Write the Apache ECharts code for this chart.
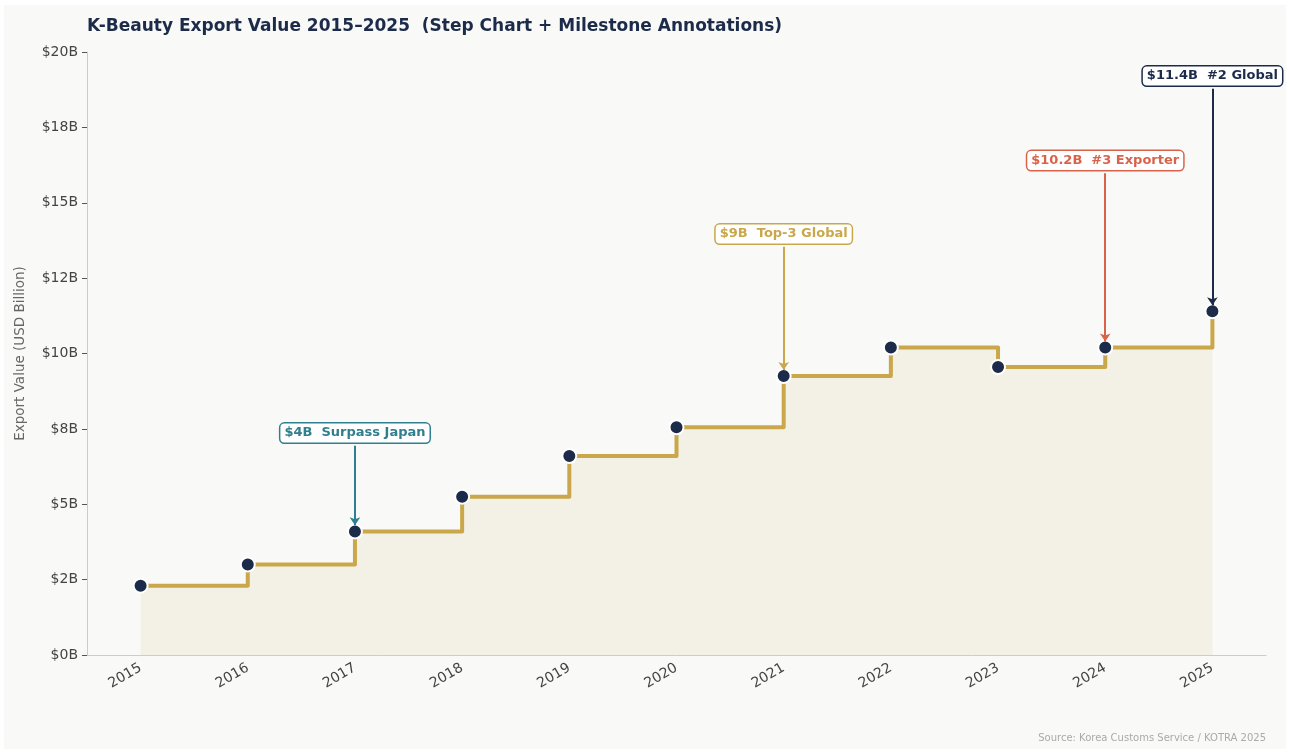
<!DOCTYPE html>
<html>
<head>
<meta charset="utf-8">
<title>K-Beauty Export Value 2015–2025</title>
<script src="https://cdn.jsdelivr.net/npm/echarts@6/dist/echarts.min.js"></script>
<style>
  html, body { margin: 0; padding: 0; background: #ffffff; }
  #chart { width: 1290px; height: 753px; }
</style>
</head>
<body>
<div id="chart"></div>
<script>
// Export value per year, USD billion
const years = ['2015', '2016', '2017', '2018', '2019', '2020', '2021', '2022', '2023', '2024', '2025'];
const exportValues = [2.3, 3.0, 4.1, 5.25, 6.6, 7.55, 9.25, 10.2, 9.55, 10.2, 11.4];

// Y axis tick labels (every 2.5B)
const yTickLabels = ['$0B', '$2B', '$5B', '$8B', '$10B', '$12B', '$15B', '$18B', '$20B'];

// Milestone annotations
const milestoneYears = ['2017', '2021', '2024', '2025'];
const milestoneTexts = ['$4B  Surpass Japan', '$9B  Top-3 Global', '$10.2B  #3 Exporter', '$11.4B  #2 Global'];
const milestoneBoxLevels = [7.36, 13.96, 16.4, 19.2];
const milestoneColors = ['#2f7f8e', '#c9a74a', '#d9634a', '#1c2b4a'];

const GOLD = '#c9a74a';
const NAVY = '#1c2b4a';

const chart = echarts.init(document.getElementById('chart'), null, { renderer: 'canvas' });

const boxData = milestoneYears.map((y, i) => ({
  value: [y, milestoneBoxLevels[i]],
  label: {
    formatter: milestoneTexts[i],
    color: milestoneColors[i],
    borderColor: milestoneColors[i]
  }
}));

const arrowData = milestoneYears.map((y, i) => {
  const idx = years.indexOf(y);
  return [
    { coord: [y, milestoneBoxLevels[i] - 0.42], lineStyle: { color: milestoneColors[i], width: 2, type: 'solid' } },
    { coord: [y, exportValues[idx] + 0.2] }
  ];
});

chart.setOption({
  backgroundColor: '#ffffff',
  animation: false,
  textStyle: { fontFamily: 'DejaVu Sans' },
  title: {
    text: 'K-Beauty Export Value 2015–2025  (Step Chart + Milestone Annotations)',
    left: 82,
    top: 13,
    textStyle: { fontSize: 17, fontWeight: 'bold', color: NAVY, fontFamily: 'DejaVu Sans' }
  },
  graphic: [
    {
      type: 'rect', z: -100, silent: true,
      shape: { x: 4, y: 5, width: 1282, height: 744 },
      style: { fill: '#f9f9f7' }
    },
    {
      type: 'text', right: 24, top: 733,
      style: {
        text: 'Source: Korea Customs Service / KOTRA 2025',
        fill: '#aaaaaa', font: '10px "DejaVu Sans"'
      }
    }
  ],
  grid: { left: 87, right: 24, top: 52, bottom: 98, containLabel: false },
  xAxis: {
    type: 'category',
    data: years,
    boundaryGap: true,
    axisLine: { lineStyle: { color: '#cccccc', width: 1 } },
    axisTick: { alignWithLabel: true, length: 5, lineStyle: { color: '#555555' } },
    axisLabel: { rotate: 30, fontSize: 14, color: '#444444', margin: 12 },
    splitLine: { show: false }
  },
  yAxis: {
    type: 'value',
    min: 0, max: 20, interval: 2.5,
    name: 'Export Value (USD Billion)',
    nameLocation: 'middle',
    nameGap: 60,
    nameTextStyle: { fontSize: 13.5, color: '#666666' },
    axisLine: { show: true, lineStyle: { color: '#cccccc', width: 1 } },
    axisTick: { show: true, length: 5, lineStyle: { color: '#555555' } },
    axisLabel: {
      fontSize: 14, color: '#444444', margin: 9,
      formatter: v => yTickLabels[Math.round(v / 2.5)]
    },
    splitLine: { show: false }
  },
  series: [
    {
      name: 'Export Value',
      type: 'line',
      step: 'end',
      data: exportValues,
      lineStyle: { color: GOLD, width: 4, join: 'round' },
      areaStyle: { color: GOLD, opacity: 0.1 },
      symbol: 'circle',
      symbolSize: 14,
      itemStyle: { color: NAVY, borderColor: '#ffffff', borderWidth: 2 },
      z: 3,
      markLine: {
        silent: true,
        symbol: ['none', 'arrow'],
        symbolSize: [8, 8],
        label: { show: false },
        lineStyle: { type: 'solid', width: 2 },
        data: arrowData
      }
    },
    {
      name: 'Milestones',
      type: 'scatter',
      data: boxData,
      symbolSize: 0,
      z: 5,
      itemStyle: { opacity: 1 },
      label: {
        show: true,
        position: 'inside',
        opacity: 1,
        fontSize: 13,
        fontWeight: 'bold',
        backgroundColor: '#ffffff',
        borderWidth: 1.5,
        borderRadius: 4,
        padding: [3, 4, 3, 4]
      }
    }
  ]
});
</script>
</body>
</html>
